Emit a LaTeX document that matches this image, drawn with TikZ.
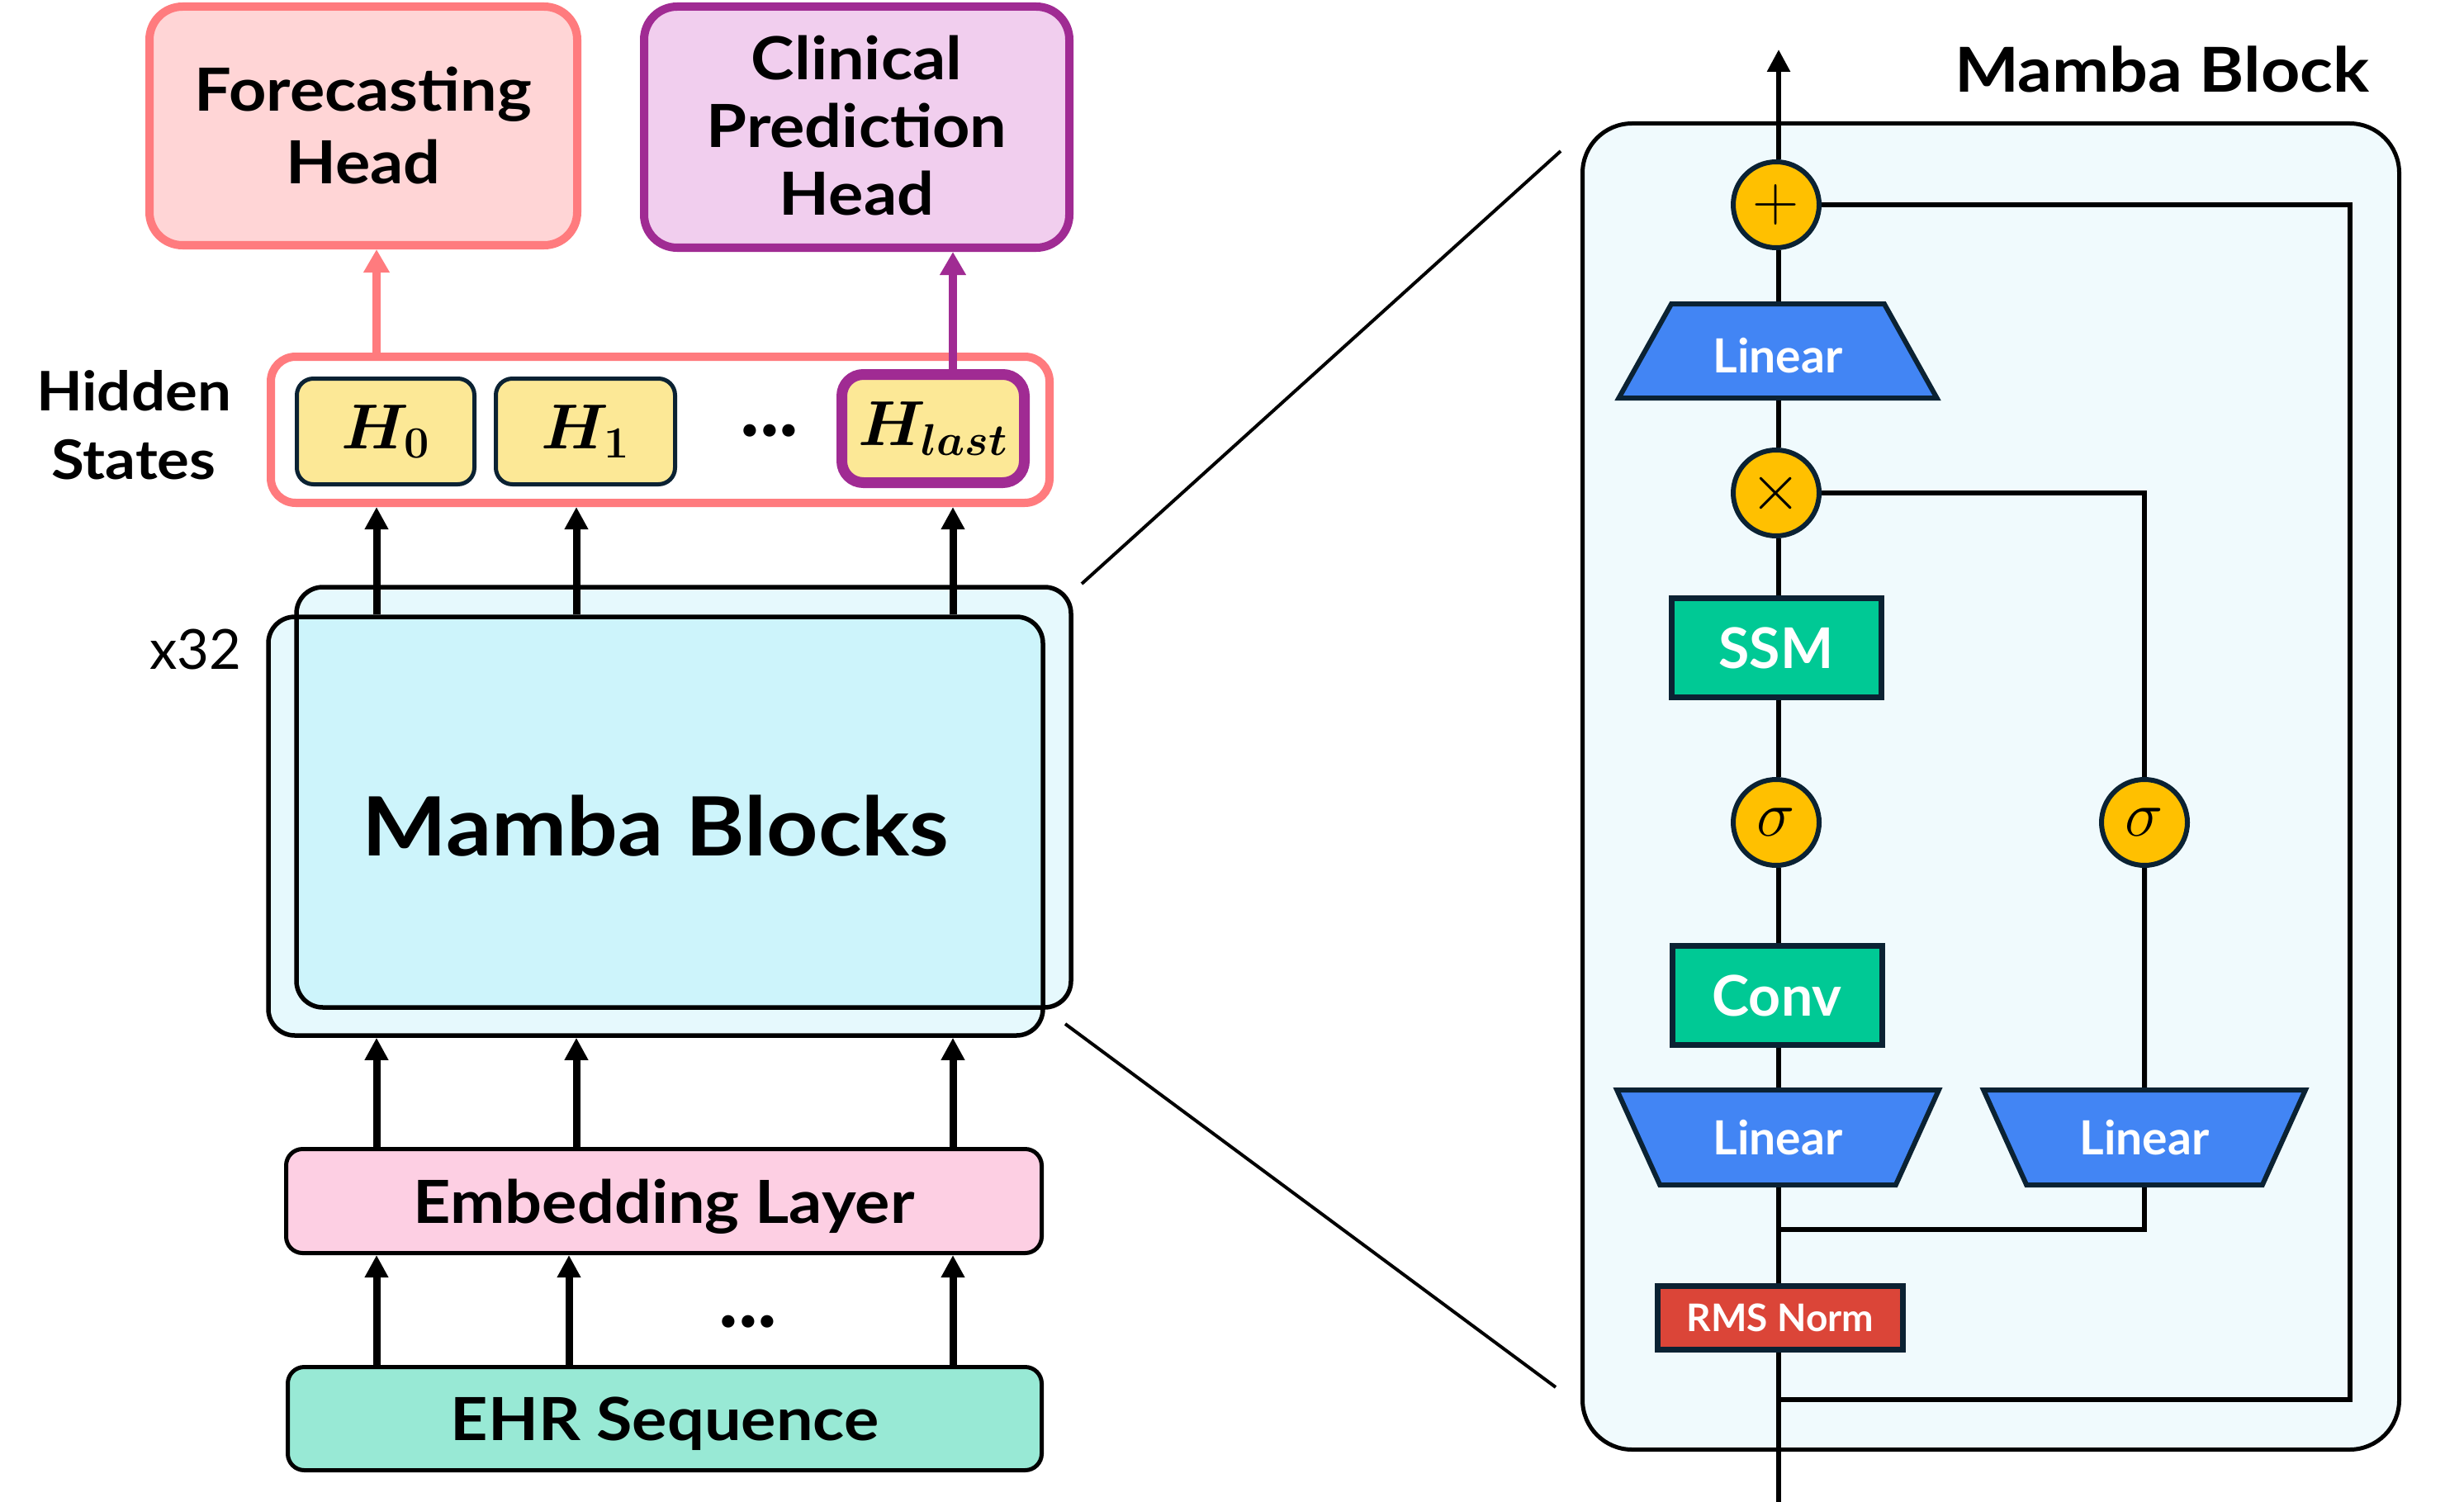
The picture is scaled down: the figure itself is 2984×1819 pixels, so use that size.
\RequirePackage{fix-cm}
\documentclass[tikz,border=0pt]{standalone}
\usepackage[no-math]{fontspec}
\setmainfont{Lato}
\newfontfamily\widefont{Lato}[FakeStretch=1.1]
\usepackage{bm}
\usetikzlibrary{arrows.meta,shapes.geometric}
\newcommand\fsz[2]{\fontsize{#1}{#2}\selectfont}
\definecolor{cSalmon}{HTML}{FF7B7E}
\definecolor{cFcFill}{HTML}{FFD5D6}
\definecolor{cPurp}{HTML}{A02B93}
\definecolor{cCpFill}{HTML}{F1CEEE}
\definecolor{cYel}{HTML}{FCE896}
\definecolor{cNavy}{HTML}{0B2233}
\definecolor{cMLight}{HTML}{E6F9FD}
\definecolor{cMDark}{HTML}{CDF4FB}
\definecolor{cEmb}{HTML}{FDCFE3}
\definecolor{cEhr}{HTML}{98E9D5}
\definecolor{cPanel}{HTML}{F0FAFD}
\definecolor{cAmber}{HTML}{FFC000}
\definecolor{cBlue}{HTML}{4285F4}
\definecolor{cGreen}{HTML}{00C995}
\definecolor{cRed}{HTML}{DB4538}
\begin{document}
\begin{tikzpicture}[x=1pt,y=-1pt,
  conn/.style={draw=black, line width=6pt},
  barr/.style={draw=black, line width=9pt, -{Triangle[width=27pt,length=27pt]}},
  sarr/.style={draw=cSalmon, line width=10pt, -{Triangle[width=30pt,length=28pt]}},
  parr/.style={draw=cPurp, line width=10pt, -{Triangle[width=30pt,length=28pt]}},
  thinln/.style={draw=black, line width=4pt},
  headbox/.style={rounded corners=40pt, line width=10pt, inner sep=0pt, align=center, font=\widefont\bfseries\fsz{72}{88}},
  hbox/.style={draw=cNavy, line width=5pt, fill=cYel, rounded corners=20pt, minimum height=128pt, inner sep=0pt, font=\fsz{77}{80}},
  layerbox/.style={draw=black, line width=5pt, rounded corners=20pt, inner sep=0pt, text depth=0pt, font=\widefont\bfseries\fsz{72}{80}},
  mbox/.style={draw=black, line width=5.5pt, rounded corners=32pt, inner sep=0pt, minimum width=938pt},
  circ/.style={circle, draw=cNavy, line width=6pt, fill=cAmber, minimum size=104pt, inner sep=0pt},
  trap/.style={trapezium, trapezium stretches=true, draw=cNavy, line width=6pt, fill=cBlue, text=white, inner sep=0pt, font=\bfseries\fsz{57}{60}},
  rbox/.style={draw=cNavy, line width=7pt, fill=cGreen, text=white, inner sep=0pt, minimum width=254pt, minimum height=120pt, font=\bfseries\fsz{68}{70}},
  txt/.style={inner sep=0pt}
]
\useasboundingbox (0,0) rectangle (2984,1819);

% ---------------- left part ----------------
\node[headbox, draw=cSalmon, fill=cFcFill, minimum width=518pt, minimum height=289pt] (fc) at (440,152.5) {Forecasting\\Head};
\node[headbox, draw=cPurp, fill=cCpFill, minimum width=515pt, minimum height=292pt] (cp) at (1037.5,154) {Clinical\\[-6pt]Prediction\\[-6pt]Head\\[-84pt]};

\node[draw=cSalmon, line width=10pt, fill=white, rounded corners=30pt, minimum width=943pt, minimum height=177pt] (hs) at (799.5,520.5) {};
\node[txt, align=center, font=\widefont\bfseries\fsz{66}{83}] (hstxt) at (162,514.5) {Hidden\\States};

\node[hbox, minimum width=215pt] (h0) at (467,522.5) {$\bm{H_{0}}$};
\node[hbox, minimum width=217pt] (h1) at (709,522.5) {$\bm{H_{1}}$};
\node[hbox, draw=cPurp, line width=13pt, rounded corners=26pt, minimum width=221pt, minimum height=131pt] (hl) at (1130,519) {$\bm{H_{last}}$};
\node[txt, anchor=base, font=\bfseries\fsz{100}{100}] (dots1) at (932,528) {...};

% Mamba blocks (two overlapping translucent boxes)
\fill[cMLight, rounded corners=32pt] (359,711) rectangle (1297,1220);
\fill[cMLight, rounded corners=32pt] (325,747) rectangle (1263,1254);
\begin{scope}
  \clip[rounded corners=32pt] (359,711) rectangle (1297,1220);
  \fill[cMDark, rounded corners=32pt] (325,747) rectangle (1263,1254);
\end{scope}
\node[mbox, minimum height=509pt] (mbA) at (828,965.5) {};
\node[mbox, minimum height=507pt, font=\widefont\bfseries\fsz{99}{100}] (mbB) at (794,1000.5) {Mamba Blocks};
\node[txt, anchor=base, font=\fsz{67}{70}] (x32) at (237,810) {x32};

\node[layerbox, fill=cEmb, minimum width=915pt, minimum height=126pt] (emb) at (804,1454.5) {Embedding Layer};
\node[layerbox, fill=cEhr, minimum width=913pt, minimum height=125pt] (ehr) at (805,1718) {EHR Sequence};
\node[txt, anchor=base, font=\bfseries\fsz{100}{100}] (dots2) at (906,1607) {...};

\coordinate (xa) at (456,0);
\coordinate (xb) at (698,0);
\coordinate (xb2) at (689,0);
\coordinate (xc) at (1154,0);

\draw[sarr] (hs.north -| xa) -- (fc.south -| xa);
\draw[parr] (hl.north -| xc) -- (cp.south -| xc);
\foreach \c in {xa,xb,xc} {
  \draw[barr] (mbB.north -| \c) -- (hs.south -| \c);
  \draw[barr] (emb.north -| \c) -- (mbB.south -| \c);
}
\foreach \c in {xa,xb2,xc} {
  \draw[barr] (ehr.north -| \c) -- (emb.south -| \c);
}

% zoom lines
\coordinate (za1) at (1310,707);
\coordinate (za2) at (1890,183);
\coordinate (zb1) at (1290,1240);
\coordinate (zb2) at (1884,1680);
\draw[thinln] (za1) -- (za2);
\draw[thinln] (zb1) -- (zb2);

% ---------------- right panel ----------------
\node[draw=black, line width=5pt, fill=cPanel, rounded corners=60pt, minimum width=989pt, minimum height=1606pt] (panel) at (2411,952.5) {};
\node[txt, anchor=base, font=\widefont\bfseries\fsz{75}{80}] (title) at (2618,112) {Mamba Block};

\node[circ, font=\fsz{78}{80}] (plus) at (2151,248) {$+$};
\node[trap, trapezium left angle=53.3, trapezium right angle=53.3, minimum width=386pt, minimum height=114pt, text height=52pt, text depth=0pt] (linT) at (2153,425) {Linear};
\node[circ, font=\fsz{80}{80}] (mul) at (2151,597) {$\times$};
\node[rbox] (ssm) at (2151,784.5) {SSM};
\node[circ, font=\fsz{78}{80}] (sigL) at (2151,996) {$\sigma$};
\node[circ, font=\fsz{78}{80}] (sigR) at (2597,996) {$\sigma$};
\node[rbox] (conv) at (2152,1205.5) {Conv};
\node[trap, trapezium left angle=123.8, trapezium right angle=123.8, minimum width=390pt, minimum height=115pt] (linL) at (2153,1377.5) {Linear};
\node[trap, trapezium left angle=123.8, trapezium right angle=123.8, minimum width=390pt, minimum height=115pt] (linR) at (2597,1377.5) {Linear};
\node[draw=cNavy, line width=7pt, fill=cRed, text=white, inner sep=0pt, minimum width=297pt, minimum height=77pt, font=\bfseries\fsz{46}{50}] (rms) at (2156,1596) {RMS Norm};

\coordinate (inb) at (2154,1819);
\coordinate (res) at (2154,1695);
\coordinate (rcol) at (2846,1000);
\coordinate (jn) at (2154,1489);
\coordinate (outT) at (2154,60);

\draw[conn] (inb) -- (rms.south -| inb);
\draw[conn] (rms.north -| inb) -- (linL.south -| inb);
\draw[conn] (linL.north -| inb) -- (conv.south -| inb);
\draw[conn] (conv.north -| inb) -- (sigL.south -| inb);
\draw[conn] (sigL.north -| inb) -- (ssm.south -| inb);
\draw[conn] (ssm.north -| inb) -- (mul.south -| inb);
\draw[conn] (mul.north -| inb) -- (linT.south -| inb);
\draw[conn] (linT.north -| inb) -- (plus.south -| inb);
\draw[conn, -{Triangle[width=27pt,length=27pt]}] (plus.north -| inb) -- (outT);
\draw[conn] (linR.north) -- (sigR.south);
\draw[conn] (sigR.north) |- (mul.east);
\draw[conn] (linR.south) |- (jn);
\draw[conn] (res) -| (rcol) |- (plus.east);
\end{tikzpicture}
\end{document}
